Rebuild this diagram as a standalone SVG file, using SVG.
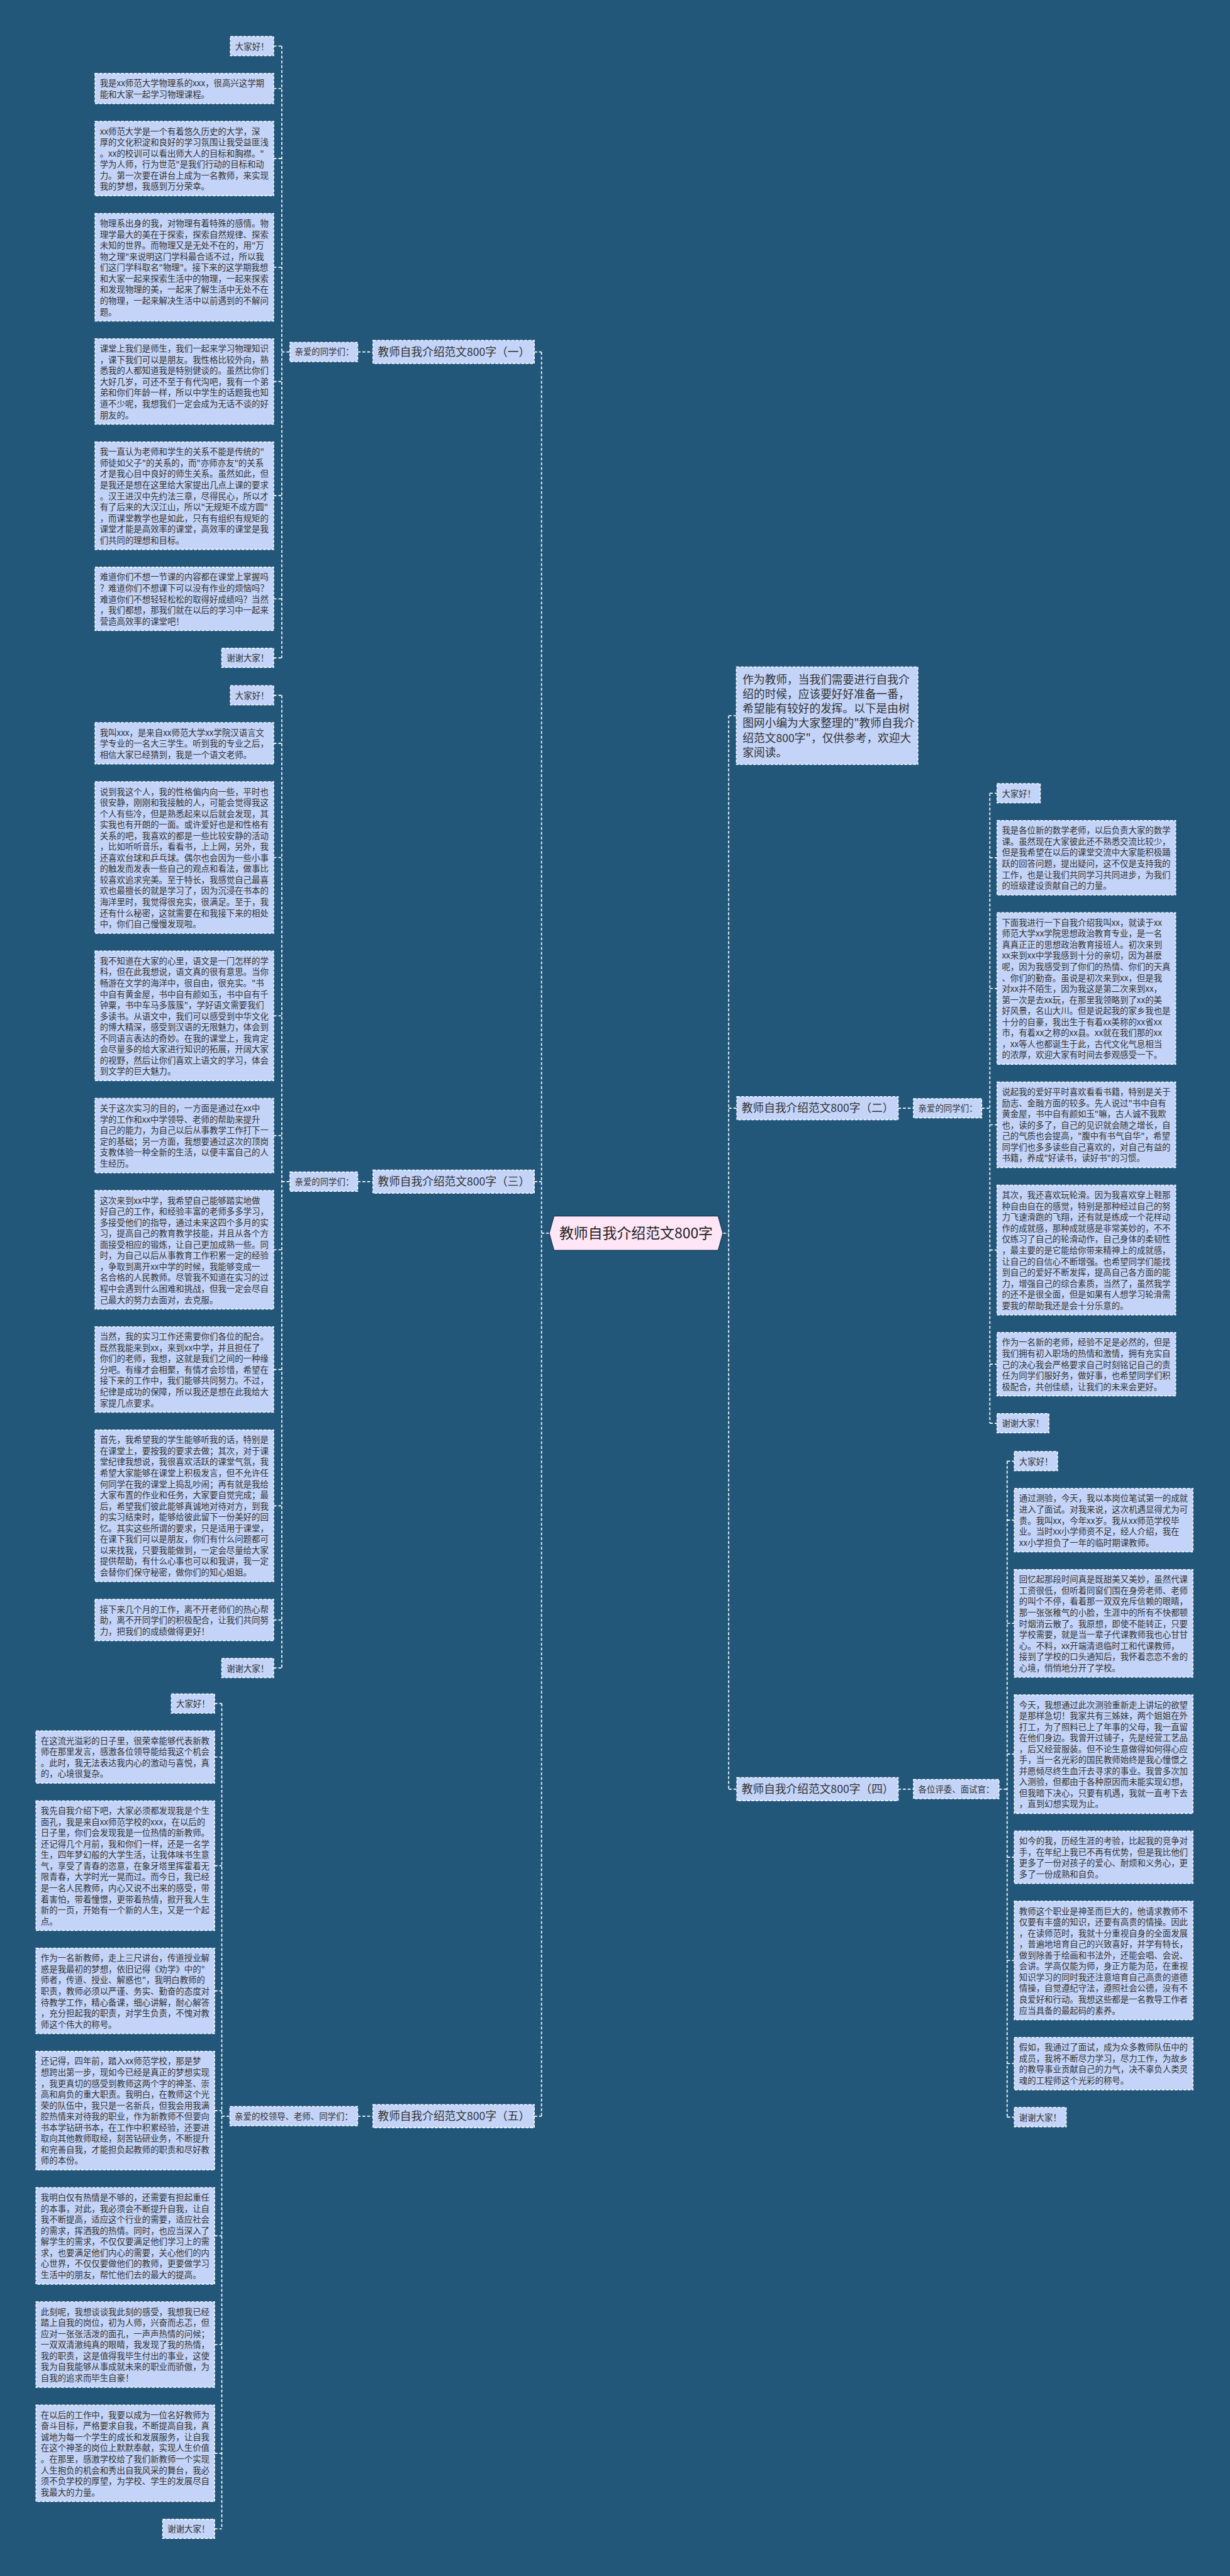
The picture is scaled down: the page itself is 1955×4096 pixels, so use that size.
<svg xmlns="http://www.w3.org/2000/svg" width="1955" height="4096" viewBox="0 0 1955 4096">
<style>
.bx{fill:#c3d4f8;stroke:#ffffff;stroke-width:2;stroke-dasharray:6 3}
.cn{fill:none;stroke:#ffffff;stroke-width:2.2;stroke-dasharray:6 4}
.t{font-family:"Noto Sans CJK SC","Noto Sans",sans-serif;font-size:17.6px;fill:#333333}
.tb{font-family:"Noto Sans CJK SC","Noto Sans",sans-serif;font-size:23.2px;fill:#333333}
.tc{font-family:"Noto Sans CJK SC","Noto Sans",sans-serif;font-size:30px;fill:#222222;text-anchor:middle}
</style>
<rect width="1955" height="4096" fill="#23577a"/>
<g transform="scale(0.763)">
<g id="connectors">
<path class="cn" d="M1128,733.5V4410M1113,733.5H1128M1113,2462.5H1128M1113,4410H1128M1128,2570H1144"/>
<path class="cn" d="M745,733.5H777M745,2462.5H777M745,4410H777M587,733.5H604M587,2462.5H604M462,4410H479"/>
<path class="cn" d="M587,96V1371M570,96H587M570,184.5H587M570,330.5H587M570,557H587M570,795H587M570,1033H587M570,1248H587M570,1371H587"/>
<path class="cn" d="M587,1449V3476M570,1449H587M570,1549H587M570,1787H587M570,2117H587M570,2366.5H587M570,2604.5H587M570,2854H587M570,3138H587M570,3376H587M570,3476H587"/>
<path class="cn" d="M462,3550V5270M447,3550H462M447,3661.5H462M447,3888H462M447,4149H462M447,4398.5H462M447,4659.5H462M447,4886H462M447,5112.5H462M447,5270H462"/>
<path class="cn" d="M1518,1491.5V3728.5M1506,2570H1518M1518,1491.5H1534M1518,2309.5H1535M1518,3728.5H1535M1871,2309.5H1903M1871,3728.5H1903M2045,2309.5H2062M2081,3728.5H2098"/>
<path class="cn" d="M2062,1653V2966M2062,1653H2077M2062,1787.5H2077M2062,2060H2077M2062,2344H2077M2062,2605H2077M2062,2843H2077M2062,2966H2077"/>
<path class="cn" d="M2098,3045V4412M2098,3045H2113M2098,3168H2113M2098,3383H2113M2098,3655.5H2113M2098,3870.5H2113M2098,4085.5H2113M2098,4300.5H2113M2098,4412H2113"/>
</g>
<g id="center">
<polygon points="1154,2534 1496,2534 1506,2570 1496,2606 1154,2606 1144,2570" fill="#ffe6f7" stroke="#1d3d57" stroke-width="2"/>
<text class="tc" x="1325" y="2581">教师自我介绍范文800字</text>
</g>
<g id="intro">
<rect class="bx" x="1534" y="1390" width="378" height="203"/>
<text class="tb" x="1547" y="1424"><tspan x="1547">作为教师，当我们需要进行自我介</tspan><tspan x="1547" dy="30.5">绍的时候，应该要好好准备一番，</tspan><tspan x="1547" dy="30.5">希望能有较好的发挥。以下是由树</tspan><tspan x="1547" dy="30.5">图网小编为大家整理的"教师自我介</tspan><tspan x="1547" dy="30.5">绍范文800字"，仅供参考，欢迎大</tspan><tspan x="1547" dy="30.5">家阅读。</tspan></text>
</g>
<g id="branch1"><rect class="bx" x="777" y="709.5" width="336" height="48"/><text class="tb" x="787" y="741.8">教师自我介绍范文800字（一）</text></g>
<g id="branch3"><rect class="bx" x="777" y="2438.5" width="336" height="48"/><text class="tb" x="787" y="2470.8">教师自我介绍范文800字（三）</text></g>
<g id="branch5"><rect class="bx" x="777" y="4386" width="336" height="48"/><text class="tb" x="787" y="4418.3">教师自我介绍范文800字（五）</text></g>
<g id="branch2"><rect class="bx" x="1535" y="2285.5" width="336" height="48"/><text class="tb" x="1545" y="2317.8">教师自我介绍范文800字（二）</text></g>
<g id="branch4"><rect class="bx" x="1535" y="3704.5" width="336" height="48"/><text class="tb" x="1545" y="3736.8">教师自我介绍范文800字（四）</text></g>
<g id="label1"><rect class="bx" x="604" y="713.5" width="141" height="40"/><text class="t" x="614" y="739.8">亲爱的同学们：</text></g>
<g id="label3"><rect class="bx" x="604" y="2442.5" width="141" height="40"/><text class="t" x="614" y="2468.8">亲爱的同学们：</text></g>
<g id="label5"><rect class="bx" x="479" y="4390" width="266" height="40"/><text class="t" x="489" y="4416.3">亲爱的校领导、老师、同学们：</text></g>
<g id="label2"><rect class="bx" x="1903" y="2289.5" width="142" height="40"/><text class="t" x="1913" y="2315.8">亲爱的同学们：</text></g>
<g id="label4"><rect class="bx" x="1903" y="3708.5" width="178" height="40"/><text class="t" x="1913" y="3734.8">各位评委、面试官：</text></g>

<g id="b1-0"><rect class="bx" x="480" y="76" width="90" height="40"/><text class="t" x="490" y="103">大家好！</text></g>
<g id="b1-1"><rect class="bx" x="198" y="153" width="372" height="63"/><text class="t" x="208" y="180"><tspan x="208">我是xx师范大学物理系的xxx，很高兴这学期</tspan><tspan x="208" dy="23">能和大家一起学习物理课程。</tspan></text></g>
<g id="b1-2"><rect class="bx" x="198" y="253" width="372" height="155"/><text class="t" x="208" y="280"><tspan x="208">xx师范大学是一个有着悠久历史的大学，深</tspan><tspan x="208" dy="23">厚的文化积淀和良好的学习氛围让我受益匪浅</tspan><tspan x="208" dy="23">。xx的校训可以看出师大人的目标和胸襟。"</tspan><tspan x="208" dy="23">学为人师，行为世范"是我们行动的目标和动</tspan><tspan x="208" dy="23">力。第一次要在讲台上成为一名教师，来实现</tspan><tspan x="208" dy="23">我的梦想，我感到万分荣幸。</tspan></text></g>
<g id="b1-3"><rect class="bx" x="198" y="445" width="372" height="224"/><text class="t" x="208" y="472"><tspan x="208">物理系出身的我，对物理有着特殊的感情。物</tspan><tspan x="208" dy="23">理学最大的美在于探索，探索自然规律、探索</tspan><tspan x="208" dy="23">未知的世界。而物理又是无处不在的，用"万</tspan><tspan x="208" dy="23">物之理"来说明这门学科最合适不过，所以我</tspan><tspan x="208" dy="23">们这门学科取名"物理"。接下来的这学期我想</tspan><tspan x="208" dy="23">和大家一起来探索生活中的物理，一起来探索</tspan><tspan x="208" dy="23">和发现物理的美，一起来了解生活中无处不在</tspan><tspan x="208" dy="23">的物理，一起来解决生活中以前遇到的不解问</tspan><tspan x="208" dy="23">题。</tspan></text></g>
<g id="b1-4"><rect class="bx" x="198" y="706" width="372" height="178"/><text class="t" x="208" y="733"><tspan x="208">课堂上我们是师生，我们一起来学习物理知识</tspan><tspan x="208" dy="23">，课下我们可以是朋友。我性格比较外向，熟</tspan><tspan x="208" dy="23">悉我的人都知道我是特别健谈的。虽然比你们</tspan><tspan x="208" dy="23">大好几岁，可还不至于有代沟吧，我有一个弟</tspan><tspan x="208" dy="23">弟和你们年龄一样，所以中学生的话题我也知</tspan><tspan x="208" dy="23">道不少呢，我想我们一定会成为无话不谈的好</tspan><tspan x="208" dy="23">朋友的。</tspan></text></g>
<g id="b1-5"><rect class="bx" x="198" y="921" width="372" height="224"/><text class="t" x="208" y="948"><tspan x="208">我一直认为老师和学生的关系不能是传统的"</tspan><tspan x="208" dy="23">师徒如父子"的关系的，而"亦师亦友"的关系</tspan><tspan x="208" dy="23">才是我心目中良好的师生关系。虽然如此，但</tspan><tspan x="208" dy="23">是我还是想在这里给大家提出几点上课的要求</tspan><tspan x="208" dy="23">。汉王进汉中先约法三章，尽得民心，所以才</tspan><tspan x="208" dy="23">有了后来的大汉江山，所以"无规矩不成方圆"</tspan><tspan x="208" dy="23">，而课堂教学也是如此，只有有组织有规矩的</tspan><tspan x="208" dy="23">课堂才能是高效率的课堂，高效率的课堂是我</tspan><tspan x="208" dy="23">们共同的理想和目标。</tspan></text></g>
<g id="b1-6"><rect class="bx" x="198" y="1182" width="372" height="132"/><text class="t" x="208" y="1209"><tspan x="208">难道你们不想一节课的内容都在课堂上掌握吗</tspan><tspan x="208" dy="23">？难道你们不想课下可以没有作业的烦恼吗？</tspan><tspan x="208" dy="23">难道你们不想轻轻松松的取得好成绩吗？当然</tspan><tspan x="208" dy="23">，我们都想，那我们就在以后的学习中一起来</tspan><tspan x="208" dy="23">营造高效率的课堂吧！</tspan></text></g>
<g id="b1-7"><rect class="bx" x="462" y="1351" width="108" height="40"/><text class="t" x="472" y="1378">谢谢大家！</text></g>

<g id="b3-0"><rect class="bx" x="480" y="1429" width="90" height="40"/><text class="t" x="490" y="1456">大家好！</text></g>
<g id="b3-1"><rect class="bx" x="198" y="1506" width="372" height="86"/><text class="t" x="208" y="1533"><tspan x="208">我叫xxx，是来自xx师范大学xx学院汉语言文</tspan><tspan x="208" dy="23">学专业的一名大三学生。听到我的专业之后，</tspan><tspan x="208" dy="23">相信大家已经猜到，我是一个语文老师。</tspan></text></g>
<g id="b3-2"><rect class="bx" x="198" y="1629" width="372" height="316"/><text class="t" x="208" y="1656"><tspan x="208">说到我这个人，我的性格偏内向一些，平时也</tspan><tspan x="208" dy="23">很安静，刚刚和我接触的人，可能会觉得我这</tspan><tspan x="208" dy="23">个人有些冷，但是熟悉起来以后就会发现，其</tspan><tspan x="208" dy="23">实我也有开朗的一面。或许爱好也是和性格有</tspan><tspan x="208" dy="23">关系的吧，我喜欢的都是一些比较安静的活动</tspan><tspan x="208" dy="23">，比如听听音乐，看看书，上上网，另外，我</tspan><tspan x="208" dy="23">还喜欢台球和乒乓球。偶尔也会因为一些小事</tspan><tspan x="208" dy="23">的触发而发表一些自己的观点和看法，做事比</tspan><tspan x="208" dy="23">较喜欢追求完美。至于特长，我感觉自己最喜</tspan><tspan x="208" dy="23">欢也最擅长的就是学习了，因为沉浸在书本的</tspan><tspan x="208" dy="23">海洋里时，我觉得很充实，很满足。至于，我</tspan><tspan x="208" dy="23">还有什么秘密，这就需要在和我接下来的相处</tspan><tspan x="208" dy="23">中，你们自己慢慢发现啦。</tspan></text></g>
<g id="b3-3"><rect class="bx" x="198" y="1982" width="372" height="270"/><text class="t" x="208" y="2009"><tspan x="208">我不知道在大家的心里，语文是一门怎样的学</tspan><tspan x="208" dy="23">科，但在此我想说，语文真的很有意思。当你</tspan><tspan x="208" dy="23">畅游在文学的海洋中，很自由，很充实。"书</tspan><tspan x="208" dy="23">中自有黄金屋，书中自有颜如玉，书中自有千</tspan><tspan x="208" dy="23">钟粟，书中车马多簇簇"，学好语文需要我们</tspan><tspan x="208" dy="23">多读书。从语文中，我们可以感受到中华文化</tspan><tspan x="208" dy="23">的博大精深，感受到汉语的无限魅力，体会到</tspan><tspan x="208" dy="23">不同语言表达的奇妙。在我的课堂上，我肯定</tspan><tspan x="208" dy="23">会尽量多的给大家进行知识的拓展，开阔大家</tspan><tspan x="208" dy="23">的视野，然后让你们喜欢上语文的学习，体会</tspan><tspan x="208" dy="23">到文学的巨大魅力。</tspan></text></g>
<g id="b3-4"><rect class="bx" x="198" y="2289" width="372" height="155"/><text class="t" x="208" y="2316"><tspan x="208">关于这次实习的目的，一方面是通过在xx中</tspan><tspan x="208" dy="23">学的工作和xx中学领导、老师的帮助来提升</tspan><tspan x="208" dy="23">自己的能力，为自己以后从事教学工作打下一</tspan><tspan x="208" dy="23">定的基础；另一方面，我想要通过这次的顶岗</tspan><tspan x="208" dy="23">支教体验一种全新的生活，以便丰富自己的人</tspan><tspan x="208" dy="23">生经历。</tspan></text></g>
<g id="b3-5"><rect class="bx" x="198" y="2481" width="372" height="247"/><text class="t" x="208" y="2508"><tspan x="208">这次来到xx中学，我希望自己能够踏实地做</tspan><tspan x="208" dy="23">好自己的工作，和经验丰富的老师多多学习，</tspan><tspan x="208" dy="23">多接受他们的指导，通过未来这四个多月的实</tspan><tspan x="208" dy="23">习，提高自己的教育教学技能，并且从各个方</tspan><tspan x="208" dy="23">面接受相应的锻炼，让自己更加成熟一些。同</tspan><tspan x="208" dy="23">时，为自己以后从事教育工作积累一定的经验</tspan><tspan x="208" dy="23">，争取到离开xx中学的时候，我能够变成一</tspan><tspan x="208" dy="23">名合格的人民教师。尽管我不知道在实习的过</tspan><tspan x="208" dy="23">程中会遇到什么困难和挑战，但我一定会尽自</tspan><tspan x="208" dy="23">己最大的努力去面对，去克服。</tspan></text></g>
<g id="b3-6"><rect class="bx" x="198" y="2765" width="372" height="178"/><text class="t" x="208" y="2792"><tspan x="208">当然，我的实习工作还需要你们各位的配合。</tspan><tspan x="208" dy="23">既然我能来到xx，来到xx中学，并且担任了</tspan><tspan x="208" dy="23">你们的老师，我想，这就是我们之间的一种缘</tspan><tspan x="208" dy="23">分吧。有缘才会相聚，有情才会珍惜，希望在</tspan><tspan x="208" dy="23">接下来的工作中，我们能够共同努力。不过，</tspan><tspan x="208" dy="23">纪律是成功的保障，所以我还是想在此我给大</tspan><tspan x="208" dy="23">家提几点要求。</tspan></text></g>
<g id="b3-7"><rect class="bx" x="198" y="2980" width="372" height="316"/><text class="t" x="208" y="3007"><tspan x="208">首先，我希望我的学生能够听我的话，特别是</tspan><tspan x="208" dy="23">在课堂上，要按我的要求去做；其次，对于课</tspan><tspan x="208" dy="23">堂纪律我想说，我很喜欢活跃的课堂气氛，我</tspan><tspan x="208" dy="23">希望大家能够在课堂上积极发言，但不允许任</tspan><tspan x="208" dy="23">何同学在我的课堂上捣乱吵闹；再有就是我给</tspan><tspan x="208" dy="23">大家布置的作业和任务，大家要自觉完成；最</tspan><tspan x="208" dy="23">后，希望我们彼此能够真诚地对待对方，到我</tspan><tspan x="208" dy="23">的实习结束时，能够给彼此留下一份美好的回</tspan><tspan x="208" dy="23">忆。其实这些所谓的要求，只是适用于课堂，</tspan><tspan x="208" dy="23">在课下我们可以是朋友，你们有什么问题都可</tspan><tspan x="208" dy="23">以来找我，只要我能做到，一定会尽量给大家</tspan><tspan x="208" dy="23">提供帮助，有什么心事也可以和我讲，我一定</tspan><tspan x="208" dy="23">会替你们保守秘密，做你们的知心姐姐。</tspan></text></g>
<g id="b3-8"><rect class="bx" x="198" y="3333" width="372" height="86"/><text class="t" x="208" y="3360"><tspan x="208">接下来几个月的工作，离不开老师们的热心帮</tspan><tspan x="208" dy="23">助，离不开同学们的积极配合，让我们共同努</tspan><tspan x="208" dy="23">力，把我们的成绩做得更好！</tspan></text></g>
<g id="b3-9"><rect class="bx" x="462" y="3456" width="108" height="40"/><text class="t" x="472" y="3483">谢谢大家！</text></g>

<g id="b5-0"><rect class="bx" x="357" y="3530" width="90" height="40"/><text class="t" x="367" y="3557">大家好！</text></g>
<g id="b5-1"><rect class="bx" x="75" y="3607" width="372" height="109"/><text class="t" x="85" y="3634"><tspan x="85">在这流光溢彩的日子里，很荣幸能够代表新教</tspan><tspan x="85" dy="23">师在那里发言，感激各位领导能给我这个机会</tspan><tspan x="85" dy="23">。此时，我无法表达我内心的激动与喜悦，真</tspan><tspan x="85" dy="23">的，心境很复杂。</tspan></text></g>
<g id="b5-2"><rect class="bx" x="75" y="3753" width="372" height="270"/><text class="t" x="85" y="3780"><tspan x="85">我先自我介绍下吧，大家必须都发现我是个生</tspan><tspan x="85" dy="23">面孔，我是来自xx师范学校的xxx，在以后的</tspan><tspan x="85" dy="23">日子里，你们会发现我是一位热情的新教师。</tspan><tspan x="85" dy="23">还记得几个月前，我和你们一样，还是一名学</tspan><tspan x="85" dy="23">生，四年梦幻般的大学生活，让我体味书生意</tspan><tspan x="85" dy="23">气，享受了青春的恣意，在象牙塔里挥霍着无</tspan><tspan x="85" dy="23">限青春，大学时光一晃而过。而今日，我已经</tspan><tspan x="85" dy="23">是一名人民教师，内心又说不出来的感受，带</tspan><tspan x="85" dy="23">着害怕，带着憧憬，更带着热情，掀开我人生</tspan><tspan x="85" dy="23">新的一页，开始有一个新的人生，又是一个起</tspan><tspan x="85" dy="23">点。</tspan></text></g>
<g id="b5-3"><rect class="bx" x="75" y="4060" width="372" height="178"/><text class="t" x="85" y="4087"><tspan x="85">作为一名新教师，走上三尺讲台，传道授业解</tspan><tspan x="85" dy="23">惑是我最初的梦想，依旧记得《劝学》中的"</tspan><tspan x="85" dy="23">师者，传道、授业、解惑也"，我明白教师的</tspan><tspan x="85" dy="23">职责，教师必须以严谨、务实、勤奋的态度对</tspan><tspan x="85" dy="23">待教学工作，精心备课，细心讲解，耐心解答</tspan><tspan x="85" dy="23">，充分担起我的职责，对学生负责，不愧对教</tspan><tspan x="85" dy="23">师这个伟大的称号。</tspan></text></g>
<g id="b5-4"><rect class="bx" x="75" y="4275" width="372" height="247"/><text class="t" x="85" y="4302"><tspan x="85">还记得，四年前，踏入xx师范学校，那是梦</tspan><tspan x="85" dy="23">想跨出第一步，现如今已经是真正的梦想实现</tspan><tspan x="85" dy="23">，我更真切的感受到教师这两个字的神圣、崇</tspan><tspan x="85" dy="23">高和肩负的重大职责。我明白，在教师这个光</tspan><tspan x="85" dy="23">荣的队伍中，我只是一名新兵，但我会用我满</tspan><tspan x="85" dy="23">腔热情来对待我的职业，作为新教师不但要向</tspan><tspan x="85" dy="23">书本学钻研书本，在工作中积累经验，还要进</tspan><tspan x="85" dy="23">取向其他教师取经，刻苦钻研业务，不断提升</tspan><tspan x="85" dy="23">和完善自我，才能担负起教师的职责和尽好教</tspan><tspan x="85" dy="23">师的本份。</tspan></text></g>
<g id="b5-5"><rect class="bx" x="75" y="4559" width="372" height="201"/><text class="t" x="85" y="4586"><tspan x="85">我明白仅有热情是不够的，还需要有担起重任</tspan><tspan x="85" dy="23">的本事，对此，我必须会不断提升自我，让自</tspan><tspan x="85" dy="23">我不断提高，适应这个行业的需要，适应社会</tspan><tspan x="85" dy="23">的需求，挥洒我的热情。同时，也应当深入了</tspan><tspan x="85" dy="23">解学生的需求，不仅仅要满足他们学习上的需</tspan><tspan x="85" dy="23">求，也要满足他们内心的需要，关心他们的内</tspan><tspan x="85" dy="23">心世界，不仅仅要做他们的教师，更要做学习</tspan><tspan x="85" dy="23">生活中的朋友，帮忙他们去的最大的提高。</tspan></text></g>
<g id="b5-6"><rect class="bx" x="75" y="4797" width="372" height="178"/><text class="t" x="85" y="4824"><tspan x="85">此刻呢，我想谈谈我此刻的感受，我想我已经</tspan><tspan x="85" dy="23">踏上自我的岗位，初为人师，兴奋而忐忑，但</tspan><tspan x="85" dy="23">应对一张张活泼的面孔，一声声热情的问候；</tspan><tspan x="85" dy="23">一双双清澈纯真的眼睛，我发现了我的热情，</tspan><tspan x="85" dy="23">我的职责，这是值得我毕生付出的事业，这使</tspan><tspan x="85" dy="23">我为自我能够从事成就未来的职业而骄傲，为</tspan><tspan x="85" dy="23">自我的追求而毕生自豪！</tspan></text></g>
<g id="b5-7"><rect class="bx" x="75" y="5012" width="372" height="201"/><text class="t" x="85" y="5039"><tspan x="85">在以后的工作中，我要以成为一位名好教师为</tspan><tspan x="85" dy="23">奋斗目标，严格要求自我，不断提高自我，真</tspan><tspan x="85" dy="23">诚地为每一个学生的成长和发展服务，让自我</tspan><tspan x="85" dy="23">在这个神圣的岗位上默默奉献，实现人生价值</tspan><tspan x="85" dy="23">。在那里，感激学校给了我们新教师一个实现</tspan><tspan x="85" dy="23">人生抱负的机会和秀出自我风采的舞台，我必</tspan><tspan x="85" dy="23">须不负学校的厚望，为学校、学生的发展尽自</tspan><tspan x="85" dy="23">我最大的力量。</tspan></text></g>
<g id="b5-8"><rect class="bx" x="339" y="5250" width="108" height="40"/><text class="t" x="349" y="5277">谢谢大家！</text></g>

<g id="b2-0"><rect class="bx" x="2077" y="1633" width="90" height="40"/><text class="t" x="2087" y="1660">大家好！</text></g>
<g id="b2-1"><rect class="bx" x="2077" y="1710" width="372" height="155"/><text class="t" x="2087" y="1737"><tspan x="2087">我是各位新的数学老师，以后负责大家的数学</tspan><tspan x="2087" dy="23">课。虽然现在大家彼此还不熟悉交流比较少，</tspan><tspan x="2087" dy="23">但是我希望在以后的课堂交流中大家能积极踊</tspan><tspan x="2087" dy="23">跃的回答问题，提出疑问，这不仅是支持我的</tspan><tspan x="2087" dy="23">工作，也是让我们共同学习共同进步，为我们</tspan><tspan x="2087" dy="23">的班级建设贡献自己的力量。</tspan></text></g>
<g id="b2-2"><rect class="bx" x="2077" y="1902" width="372" height="316"/><text class="t" x="2087" y="1929"><tspan x="2087">下面我进行一下自我介绍我叫xx，就读于xx</tspan><tspan x="2087" dy="23">师范大学xx学院思想政治教育专业，是一名</tspan><tspan x="2087" dy="23">真真正正的思想政治教育接班人。初次来到</tspan><tspan x="2087" dy="23">xx来到xx中学我感到十分的亲切，因为甚麽</tspan><tspan x="2087" dy="23">呢，因为我感受到了你们的热情、你们的天真</tspan><tspan x="2087" dy="23">、你们的勤奋。虽说是初次来到xx，但是我</tspan><tspan x="2087" dy="23">对xx并不陌生，因为我这是第二次来到xx，</tspan><tspan x="2087" dy="23">第一次是去xx玩，在那里我领略到了xx的美</tspan><tspan x="2087" dy="23">好风景，名山大川。但是说起我的家乡我也是</tspan><tspan x="2087" dy="23">十分的自豪，我出生于有着xx美称的xx省xx</tspan><tspan x="2087" dy="23">市，有着xx之称的xx县。xx就在我们那的xx</tspan><tspan x="2087" dy="23">，xx等人也都诞生于此，古代文化气息相当</tspan><tspan x="2087" dy="23">的浓厚，欢迎大家有时间去参观感受一下。</tspan></text></g>
<g id="b2-3"><rect class="bx" x="2077" y="2255" width="372" height="178"/><text class="t" x="2087" y="2282"><tspan x="2087">说起我的爱好平时喜欢看看书籍，特别是关于</tspan><tspan x="2087" dy="23">励志、金融方面的较多。先人说过"书中自有</tspan><tspan x="2087" dy="23">黄金屋，书中自有颜如玉"嘛，古人诚不我欺</tspan><tspan x="2087" dy="23">也，读的多了，自己的见识就会随之增长，自</tspan><tspan x="2087" dy="23">己的气质也会提高，"腹中有书气自华"，希望</tspan><tspan x="2087" dy="23">同学们也多多读些自己喜欢的，对自己有益的</tspan><tspan x="2087" dy="23">书籍，养成"好读书，读好书"的习惯。</tspan></text></g>
<g id="b2-4"><rect class="bx" x="2077" y="2470" width="372" height="270"/><text class="t" x="2087" y="2497"><tspan x="2087">其次，我还喜欢玩轮滑。因为我喜欢穿上鞋那</tspan><tspan x="2087" dy="23">种自由自在的感觉，特别是那种经过自己的努</tspan><tspan x="2087" dy="23">力飞速滑跑的飞翔，还有就是练成一个花样动</tspan><tspan x="2087" dy="23">作的成就感，那种成就感是非常美妙的，不不</tspan><tspan x="2087" dy="23">仅练习了自己的轮滑动作，自己身体的柔韧性</tspan><tspan x="2087" dy="23">，最主要的是它能给你带来精神上的成就感，</tspan><tspan x="2087" dy="23">让自己的自信心不断增强。也希望同学们能找</tspan><tspan x="2087" dy="23">到自己的爱好不断发挥，提高自己各方面的能</tspan><tspan x="2087" dy="23">力，增强自己的综合素质，当然了，虽然我学</tspan><tspan x="2087" dy="23">的还不是很全面，但是如果有人想学习轮滑需</tspan><tspan x="2087" dy="23">要我的帮助我还是会十分乐意的。</tspan></text></g>
<g id="b2-5"><rect class="bx" x="2077" y="2777" width="372" height="132"/><text class="t" x="2087" y="2804"><tspan x="2087">作为一名新的老师，经验不足是必然的，但是</tspan><tspan x="2087" dy="23">我们拥有初入职场的热情和激情，拥有充实自</tspan><tspan x="2087" dy="23">己的决心我会严格要求自己时刻铭记自己的责</tspan><tspan x="2087" dy="23">任为同学们服好务，做好事，也希望同学们积</tspan><tspan x="2087" dy="23">极配合，共创佳绩，让我们的未来会更好。</tspan></text></g>
<g id="b2-6"><rect class="bx" x="2077" y="2946" width="108" height="40"/><text class="t" x="2087" y="2973">谢谢大家！</text></g>

<g id="b4-0"><rect class="bx" x="2113" y="3025" width="90" height="40"/><text class="t" x="2123" y="3052">大家好！</text></g>
<g id="b4-1"><rect class="bx" x="2113" y="3102" width="372" height="132"/><text class="t" x="2123" y="3129"><tspan x="2123">通过测验，今天，我以本岗位笔试第一的成就</tspan><tspan x="2123" dy="23">进入了面试。对我来说，这次机遇显得尤为可</tspan><tspan x="2123" dy="23">贵。我叫xx，今年xx岁。我从xx师范学校毕</tspan><tspan x="2123" dy="23">业。当时xx小学师资不足，经人介绍，我在</tspan><tspan x="2123" dy="23">xx小学担负了一年的临时期课教师。</tspan></text></g>
<g id="b4-2"><rect class="bx" x="2113" y="3271" width="372" height="224"/><text class="t" x="2123" y="3298"><tspan x="2123">回忆起那段时间真是既甜美又美妙，虽然代课</tspan><tspan x="2123" dy="23">工资很低，但听着同窗们围在身旁老师、老师</tspan><tspan x="2123" dy="23">的叫个不停，看着那一双双充斥信赖的眼睛，</tspan><tspan x="2123" dy="23">那一张张稚气的小脸，生涯中的所有不快都顿</tspan><tspan x="2123" dy="23">时烟消云散了。我原想，即使不能转正，只要</tspan><tspan x="2123" dy="23">学校需要，就是当一辈子代课教师我也心甘甘</tspan><tspan x="2123" dy="23">心。不料，xx开端清退临时工和代课教师，</tspan><tspan x="2123" dy="23">接到了学校的口头通知后，我怀着恋恋不舍的</tspan><tspan x="2123" dy="23">心境，悄悄地分开了学校。</tspan></text></g>
<g id="b4-3"><rect class="bx" x="2113" y="3532" width="372" height="247"/><text class="t" x="2123" y="3559"><tspan x="2123">今天，我想通过此次测验重新走上讲坛的欲望</tspan><tspan x="2123" dy="23">是那样急切！我家共有三姊妹，两个姐姐在外</tspan><tspan x="2123" dy="23">打工，为了照料已上了年事的父母，我一直留</tspan><tspan x="2123" dy="23">在他们身边。我曾开过铺子，先是经营工艺品</tspan><tspan x="2123" dy="23">，后又经营服装。但不论生意做得如何得心应</tspan><tspan x="2123" dy="23">手，当一名光彩的国民教师始终是我心憧憬之</tspan><tspan x="2123" dy="23">并愿倾尽终生血汗去寻求的事业。我曾多次加</tspan><tspan x="2123" dy="23">入测验，但都由于各种原因而未能实现幻想，</tspan><tspan x="2123" dy="23">但我暗下决心，只要有机遇，我就一直考下去</tspan><tspan x="2123" dy="23">，直到幻想实现为止。</tspan></text></g>
<g id="b4-4"><rect class="bx" x="2113" y="3816" width="372" height="109"/><text class="t" x="2123" y="3843"><tspan x="2123">如今的我，历经生涯的考验，比起我的竞争对</tspan><tspan x="2123" dy="23">手，在年纪上我已不再有优势，但是我比他们</tspan><tspan x="2123" dy="23">更多了一份对孩子的爱心、耐烦和义务心，更</tspan><tspan x="2123" dy="23">多了一份成熟和自负。</tspan></text></g>
<g id="b4-5"><rect class="bx" x="2113" y="3962" width="372" height="247"/><text class="t" x="2123" y="3989"><tspan x="2123">教师这个职业是神圣而巨大的，他请求教师不</tspan><tspan x="2123" dy="23">仅要有丰盛的知识，还要有高贵的情操。因此</tspan><tspan x="2123" dy="23">，在读师范时，我就十分重视自身的全面发展</tspan><tspan x="2123" dy="23">，普遍地培育自己的兴致喜好，并学有特长，</tspan><tspan x="2123" dy="23">做到除善于绘画和书法外，还能会唱、会说、</tspan><tspan x="2123" dy="23">会讲。学高仅能为师，身正方能为范，在重视</tspan><tspan x="2123" dy="23">知识学习的同时我还注意培育自己高贵的道德</tspan><tspan x="2123" dy="23">情操，自觉遵纪守法，遵照社会公德，没有不</tspan><tspan x="2123" dy="23">良爱好和行动。我想这些都是一名教导工作者</tspan><tspan x="2123" dy="23">应当具备的最起码的素养。</tspan></text></g>
<g id="b4-6"><rect class="bx" x="2113" y="4246" width="372" height="109"/><text class="t" x="2123" y="4273"><tspan x="2123">假如，我通过了面试，成为众多教师队伍中的</tspan><tspan x="2123" dy="23">成员，我将不断尽力学习，尽力工作，为故乡</tspan><tspan x="2123" dy="23">的教导事业贡献自己的力气，决不辜负人类灵</tspan><tspan x="2123" dy="23">魂的工程师这个光彩的称号。</tspan></text></g>
<g id="b4-7"><rect class="bx" x="2113" y="4392" width="108" height="40"/><text class="t" x="2123" y="4419">谢谢大家！</text></g>
</g>
</svg>
